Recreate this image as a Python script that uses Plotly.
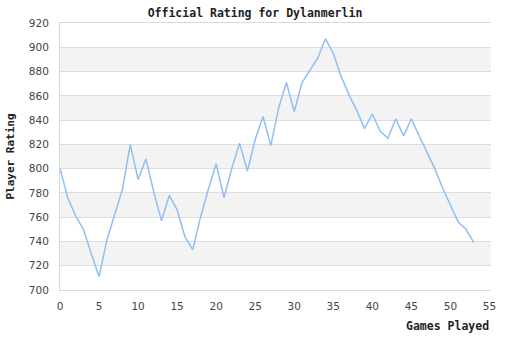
import plotly.graph_objects as go

games = list(range(54))
rating = [800, 776, 761, 750, 730, 711, 741, 762, 783, 820,
          791, 808, 781, 757, 778, 766, 744, 733, 760, 783,
          804, 776, 800, 821, 798, 824, 843, 819, 850, 871,
          847, 871, 881, 891, 907, 895, 876, 861, 848, 833,
          845, 831, 825, 841, 827, 841, 827, 813, 800, 784,
          770, 756, 750, 739]
y_ticks = list(range(700, 921, 20))
x_ticks = list(range(0, 56, 5))

title_text = "Official Rating for Dylanmerlin"
x_title = "Games Played"
y_title = "Player Rating"

mono = "DejaVu Sans Mono"
sans = "DejaVu Sans"

fig = go.Figure()
fig.add_trace(go.Scatter(x=games, y=rating, mode="lines",
                         line=dict(color="#8ec0f4", width=1.5),
                         hoverinfo="skip"))

shapes = []
for i in range(len(y_ticks) - 1):
    if i % 2 == 1:
        shapes.append(dict(type="rect", xref="paper", yref="y", x0=0, x1=1,
                           y0=y_ticks[i], y1=y_ticks[i + 1],
                           fillcolor="#f3f3f3", line=dict(width=0), layer="below"))

fig.update_layout(
    width=510, height=340,
    margin=dict(l=60, r=19, t=23, b=50),
    paper_bgcolor="white", plot_bgcolor="white",
    showlegend=False,
    shapes=shapes,
    title=dict(text=f"<b>{title_text}</b>", x=0.5, xanchor="center",
               y=1 - 13 / 340, yanchor="middle",
               font=dict(family=mono, size=11.5, color="#222")),
    xaxis=dict(range=[0, 55.2], tickvals=x_ticks, showgrid=False, zeroline=False,
               showline=True, linecolor="#d8d8d8", linewidth=1, mirror=True,
               ticks="", ticklabelstandoff=6,
               tickfont=dict(family=sans, size=10.5, color="#444")),
    yaxis=dict(range=[700, 920], tickvals=y_ticks, showgrid=True, gridcolor="#dddddd",
               zeroline=False, showline=True, linecolor="#d8d8d8", linewidth=1,
               ticks="", ticklabelstandoff=8,
               tickfont=dict(family=sans, size=10.5, color="#444")),
    annotations=[
        dict(text=f"<b>{x_title}</b>", xref="paper", yref="paper", x=1.0, y=-36 / 267,
             xanchor="right", yanchor="middle", showarrow=False,
             font=dict(family=mono, size=11.5, color="#222")),
        dict(text=f"<b>{y_title}</b>", xref="paper", yref="paper", x=-50 / 431, y=0.5,
             xanchor="center", yanchor="middle", textangle=-90, showarrow=False,
             font=dict(family=mono, size=11, color="#222")),
    ],
)

fig.write_html("out.html")
